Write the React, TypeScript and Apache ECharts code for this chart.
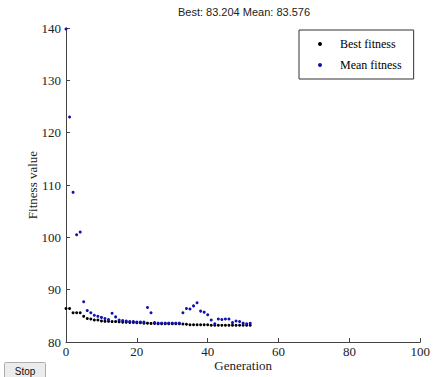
import React, { useEffect, useRef } from "react";
import * as echarts from "echarts";

const generations: number[] = Array.from({ length: 53 }, (_, i) => i);
const bestFitness: number[] = [
  86.4, 86.4, 85.6, 85.6, 85.6, 84.9, 84.5, 84.4, 84.2, 84.2,
  84.0, 83.95, 83.95, 83.9, 83.9, 83.85, 83.8, 83.8, 83.75, 83.75,
  83.7, 83.7, 83.6, 83.6, 83.55, 83.55, 83.5, 83.5, 83.5, 83.5,
  83.5, 83.5, 83.5, 83.45, 83.4, 83.3, 83.3, 83.3, 83.3, 83.3,
  83.3, 83.2, 83.2, 83.2, 83.2, 83.2, 83.2, 83.2, 83.2, 83.2,
  83.2, 83.2, 83.204,
];
const meanFitness: number[] = [
  139.8, 123.0, 108.6, 100.5, 101.0, 87.7, 86.0, 85.6, 85.1, 84.9,
  84.7, 84.5, 84.3, 85.5, 84.8, 84.2, 84.1, 84.0, 83.9, 83.9,
  83.8, 83.8, 83.8, 86.6, 85.6, 83.7, 83.6, 83.6, 83.6, 83.6,
  83.6, 83.6, 83.6, 85.6, 86.4, 86.3, 86.9, 87.5, 85.9, 85.7,
  85.2, 84.2, 83.5, 84.4, 84.3, 84.4, 84.4, 83.7, 84.0, 83.9,
  83.6, 83.5, 83.576,
];
const titleText = "Best: 83.204 Mean: 83.576";
const seriesNames = ["Best fitness", "Mean fitness"];

export default function App() {
  const ref = useRef<HTMLDivElement>(null);
  useEffect(() => {
    if (!ref.current) return;
    const chart = echarts.init(ref.current, null, { renderer: "svg" });
    const serif = "'Liberation Serif', 'Times New Roman', serif";
    const axisCommon = {
      axisLine: { show: true, lineStyle: { color: "#444", width: 1 } },
      axisTick: { show: true, inside: true, length: 4, lineStyle: { color: "#444" } },
      splitLine: { show: false },
      axisLabel: { fontFamily: serif, fontSize: 13, color: "#222" },
      nameTextStyle: { fontFamily: serif, fontSize: 13, color: "#222" },
      nameMoveOverlap: false,
    };
    chart.setOption({
      animation: false,
      backgroundColor: "#fff",
      grid: { left: 66, right: 10, top: 28, bottom: 34, containLabel: false },
      xAxis: {
        type: "value",
        min: 0,
        max: 100,
        interval: 20,
        name: "Generation",
        nameLocation: "middle",
        nameGap: 17,
        ...axisCommon,
        axisLabel: { ...axisCommon.axisLabel, margin: 3 },
      },
      yAxis: {
        type: "value",
        min: 80,
        max: 140,
        interval: 10,
        name: "Fitness value",
        nameLocation: "middle",
        nameGap: 27,
        ...axisCommon,
        axisLabel: { ...axisCommon.axisLabel, margin: 5 },
      },
      legend: {
        data: seriesNames,
        orient: "vertical",
        left: 299,
        top: 30,
        padding: [8, 12, 8, 19],
        itemGap: 9,
        itemWidth: 4,
        itemHeight: 4,
        icon: "circle",
        borderColor: "#333",
        borderWidth: 1,
        textStyle: { fontFamily: serif, fontSize: 12, color: "#000", padding: [0, 0, 0, 13] },
      },
      graphic: [
        {
          type: "text",
          x: 244,
          y: 12,
          style: {
            text: titleText,
            fontFamily: "'Liberation Sans', Arial, sans-serif",
            fontSize: 11,
            fill: "#222",
            textAlign: "center",
            textVerticalAlign: "middle",
          },
        },
        {
          type: "rect",
          shape: { x: 4.5, y: 362.5, width: 41, height: 16, r: 1 },
          style: { fill: "#ececec", stroke: "#adadad", lineWidth: 1 },
        },
        {
          type: "text",
          x: 25,
          y: 371,
          style: {
            text: "Stop",
            fontFamily: "'Liberation Sans', Arial, sans-serif",
            fontSize: 10,
            fill: "#111",
            textAlign: "center",
            textVerticalAlign: "middle",
          },
        },
      ],
      series: [
        {
          name: seriesNames[0],
          type: "scatter",
          symbol: "circle",
          symbolSize: 3,
          itemStyle: { color: "#000", opacity: 1 },
          data: generations.map((g, i) => [g, bestFitness[i]]),
        },
        {
          name: seriesNames[1],
          type: "scatter",
          symbol: "circle",
          symbolSize: 3,
          itemStyle: { color: "#1010b0", opacity: 1 },
          data: generations.map((g, i) => [g, meanFitness[i]]),
        },
      ],
    });
    return () => chart.dispose();
  }, []);
  return (
    <div
      ref={ref}
      style={{ position: "fixed", left: 0, top: 0, width: 433, height: 377 }}
    />
  );
}
